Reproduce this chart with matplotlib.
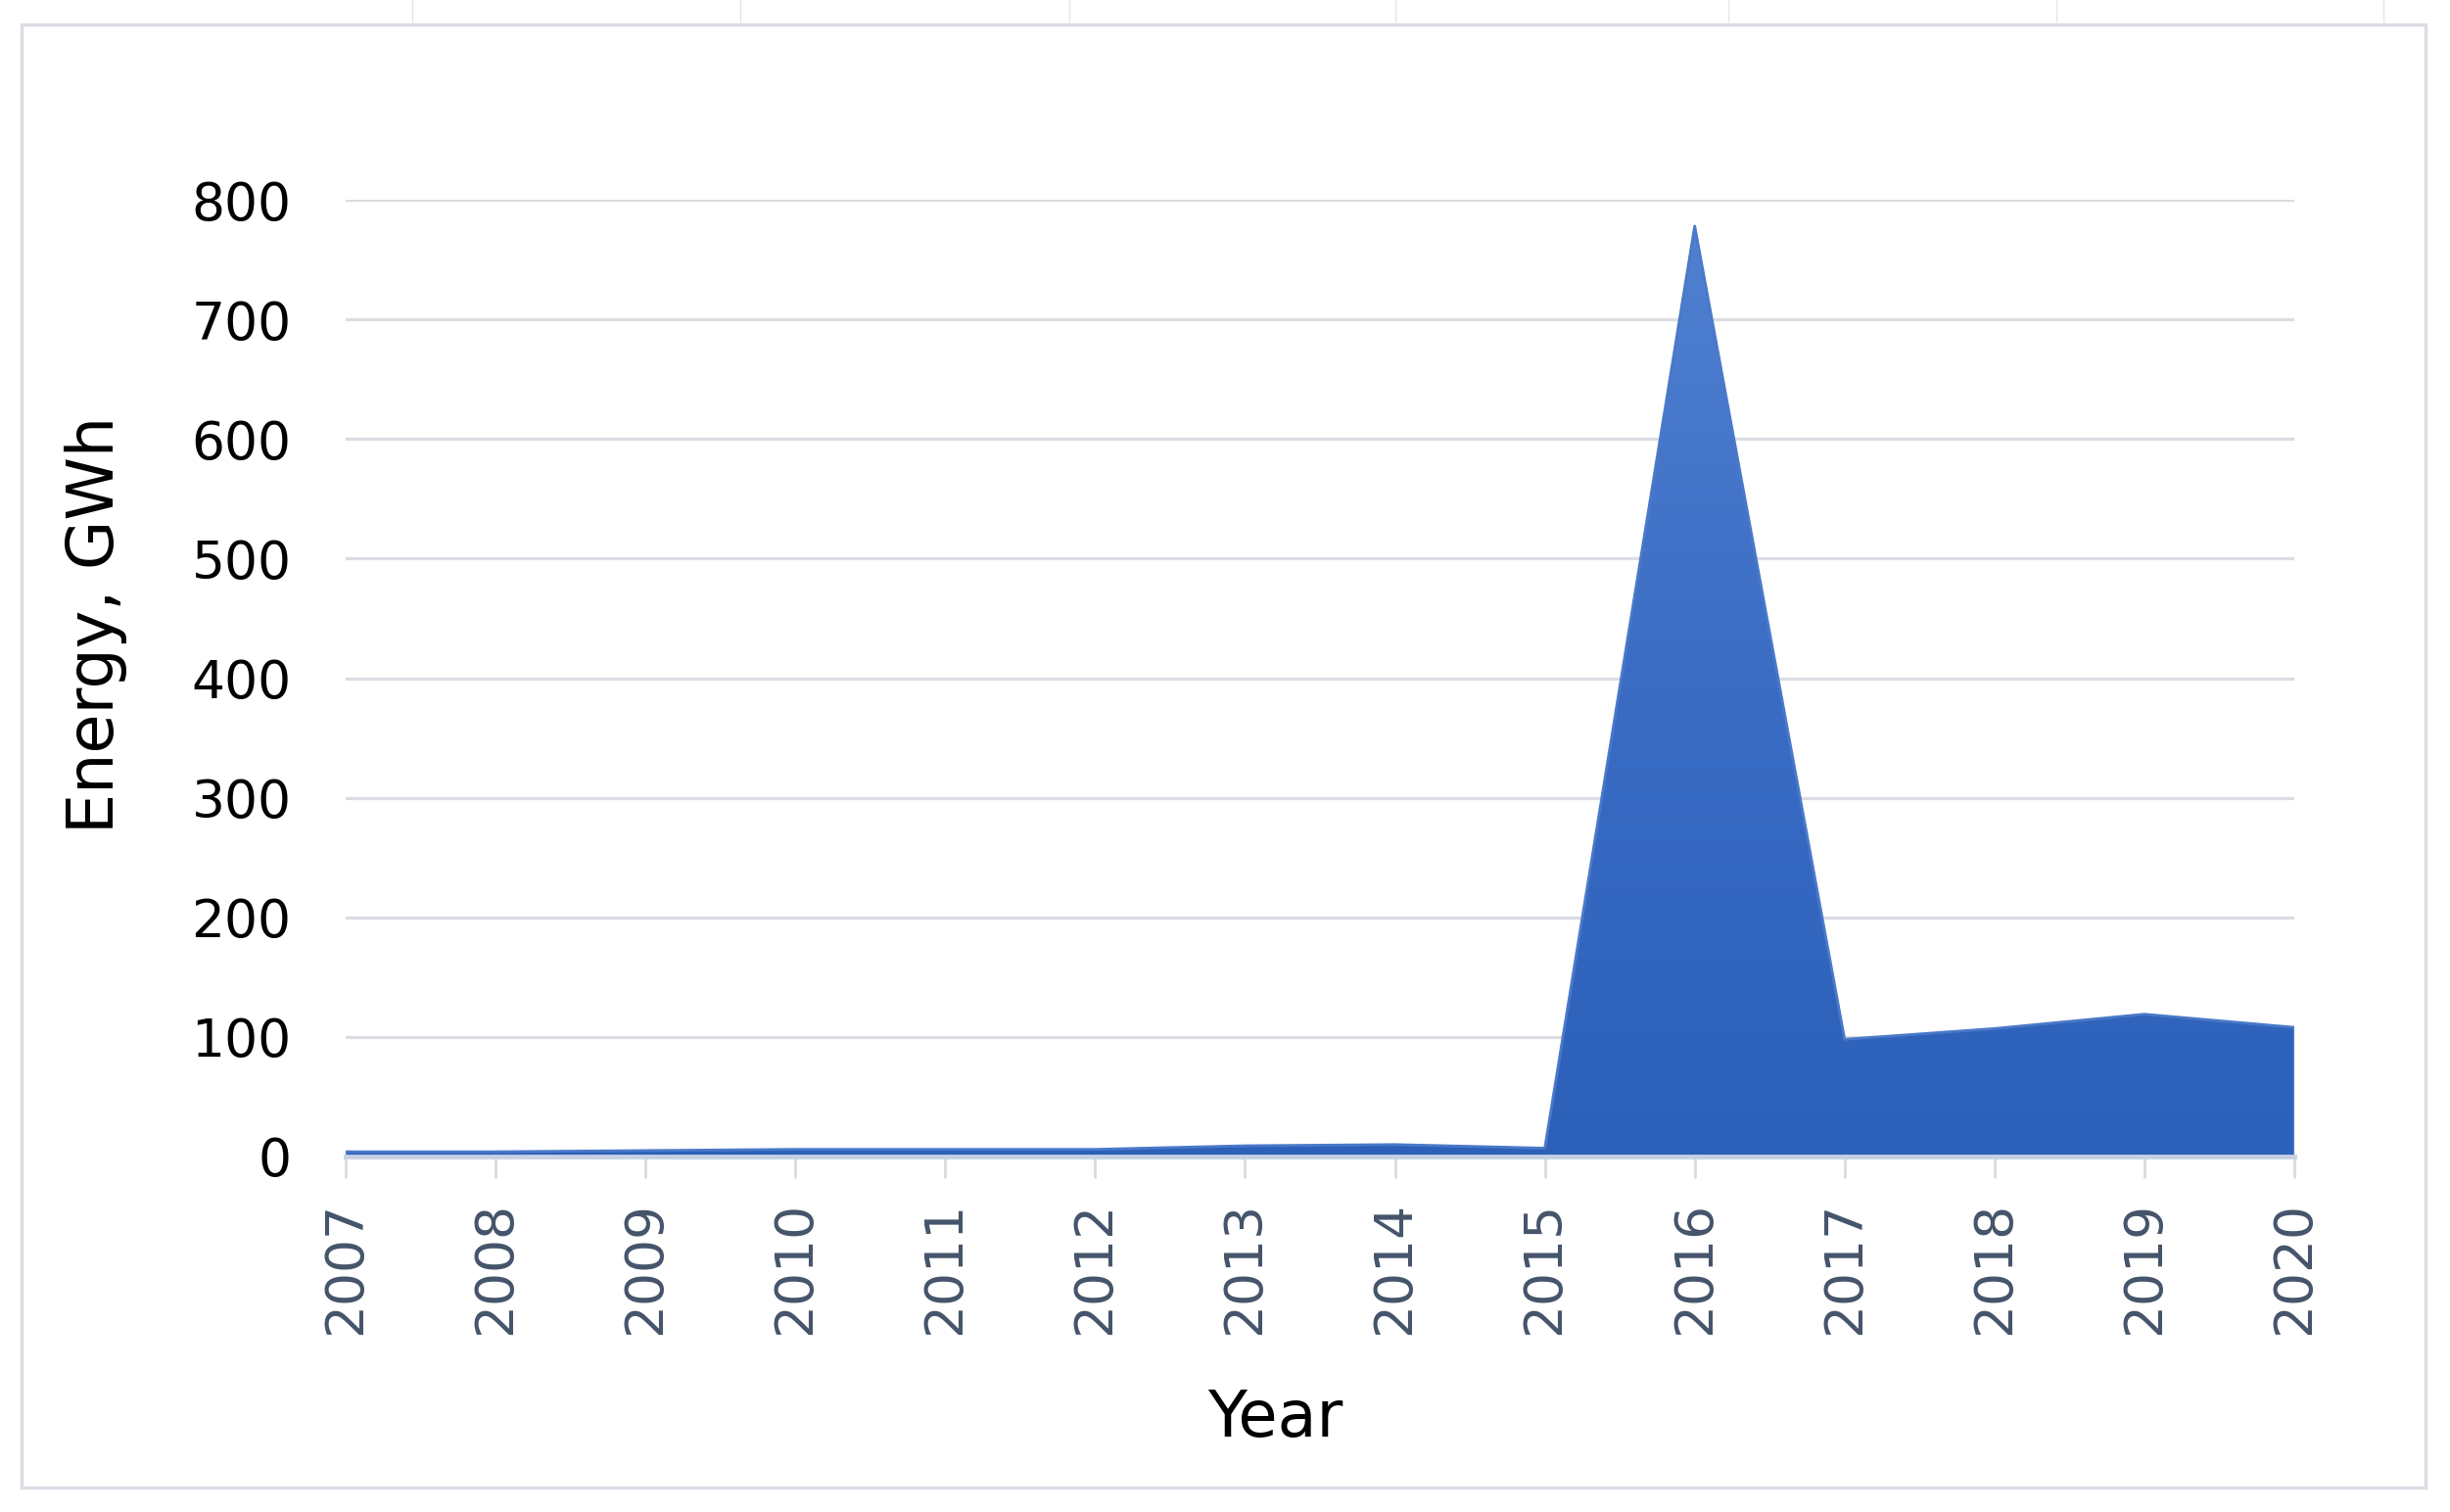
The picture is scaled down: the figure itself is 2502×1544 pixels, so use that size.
import numpy as np
import matplotlib
matplotlib.use("Agg")
import matplotlib.pyplot as plt
from matplotlib.colors import LinearSegmentedColormap
from matplotlib.patches import Rectangle
from matplotlib.lines import Line2D

# ---- data ----
years = [2007, 2008, 2009, 2010, 2011, 2012, 2013, 2014, 2015, 2016, 2017, 2018, 2019, 2020]
energy_gwh = [4, 4, 5, 6, 6, 6, 9, 10, 7, 778, 98, 107, 119, 108]
y_ticks = [0, 100, 200, 300, 400, 500, 600, 700, 800]
x_label = "Year"
y_label = "Energy, GWh"

W, H = 2502, 1544
fig = plt.figure(figsize=(W / 100, H / 100), dpi=100)
fig.patch.set_facecolor("white")

ax = fig.add_axes([353 / W, 1 - 1181 / H, (2343 - 353) / W, (1181 - 204) / H])

# area with vertical gradient
poly = ax.fill_between(years, energy_gwh, 0, facecolor="none", edgecolor="#4a79c9",
                       linewidth=2.0, zorder=3)
cmap = LinearSegmentedColormap.from_list("grad", ["#2c60b9", "#3a6cc4", "#5080d0"])
grad = np.linspace(0, 1, 256).reshape(-1, 1)
im = ax.imshow(grad, extent=[years[0], years[-1], 0, max(energy_gwh)], origin="lower",
               aspect="auto", cmap=cmap, zorder=2)
im.set_clip_path(poly.get_paths()[0], transform=ax.transData)

ax.set_xlim(years[0], years[-1])
ax.set_ylim(y_ticks[0], y_ticks[-1])
ax.set_xticks(years)
ax.set_xticklabels([str(y) for y in years])
ax.set_yticks(y_ticks)
ax.set_yticklabels([str(v) for v in y_ticks])

ax.set_axisbelow(True)
ax.yaxis.grid(True, color="#dcdde2", linewidth=2.3)
ax.xaxis.grid(False)

for s in ("top", "right", "left"):
    ax.spines[s].set_visible(False)
ax.spines["bottom"].set_color("#c6d0e4")
ax.spines["bottom"].set_linewidth(3.5)
ax.spines["bottom"].set_zorder(4)

ax.tick_params(axis="x", length=16, width=2, color="#d9dbe0", direction="out",
               pad=17, labelsize=38.5, labelcolor="#44546a", labelrotation=90)
ax.tick_params(axis="y", length=0, pad=40, labelsize=38.5, labelcolor="black")

ax.set_ylabel(y_label, fontsize=47, color="black")
ax.yaxis.set_label_coords(-0.128, 0.556)
ax.yaxis.label.set_va("center")

ax.set_xlabel(x_label, fontsize=47, color="black")
ax.xaxis.set_label_coords(0.477, -0.274)
ax.xaxis.label.set_va("center")

# outer frame
fig.add_artist(Rectangle((22 / W, 1 - 1519 / H), (2477 - 22) / W, (1519 - 25) / H,
                         transform=fig.transFigure, fill=False, edgecolor="#dadde5",
                         linewidth=2.5))
# small marks above frame (remnants in the source image)
for xm in [421, 756, 1092, 1425, 1765, 2100, 2434]:
    fig.add_artist(Line2D([xm / W, xm / W], [1, 1 - 22 / H], transform=fig.transFigure,
                          color="#e6e6e6", linewidth=1.0))

fig.savefig("out.png", dpi=100, facecolor="white")
